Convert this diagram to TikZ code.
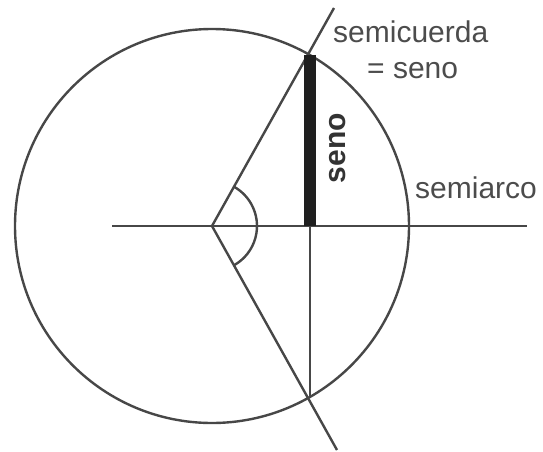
\documentclass[tikz,border=0pt]{standalone}
\usepackage{fontspec}
\setmainfont{Liberation Sans}
\begin{document}
\begin{tikzpicture}[x=1pt,y=1pt,
  thinline/.style={line width=2.4pt, draw=black!72},
  barline/.style={line width=12pt, draw=black!88},
  lbl/.style={font=\fontsize{30}{31}\selectfont, text=black!70, inner sep=0pt, anchor=base west},
  boldlbl/.style={font=\fontsize{30}{31}\selectfont\bfseries, text=black!80, inner sep=0pt, anchor=base, rotate=90}]
\useasboundingbox (0,0) rectangle (543,-452);
\coordinate (O) at (212,-226);
\coordinate (P) at (310,-55);
\coordinate (F) at (310,-226);
\coordinate (Q) at (310,-397);
\coordinate (T) at (334,-8);
\coordinate (B) at (337,-450);
\coordinate (HL) at (112,-226);
\coordinate (HR) at (527,-226);
\draw[thinline] (O) circle[radius=197pt];
\draw[thinline] (HL) -- (HR);
\draw[thinline] (O) -- (T);
\draw[thinline] (O) -- (B);
\draw[thinline] (F) -- (Q);
\draw[barline] (P) -- (F);
\draw[thinline] ([shift={(-60.2:45pt)}]O) arc[start angle=-60.2, end angle=60.2, radius=45pt];
\node[lbl] (semicuerda) at (333,-42) {semicuerda};
\node[lbl] (igseno) at (367,-78) {= seno};
\node[lbl] (semiarco) at (415,-198) {semiarco};
\node[boldlbl] (seno) at (345,-148) {seno};
\end{tikzpicture}
\end{document}
